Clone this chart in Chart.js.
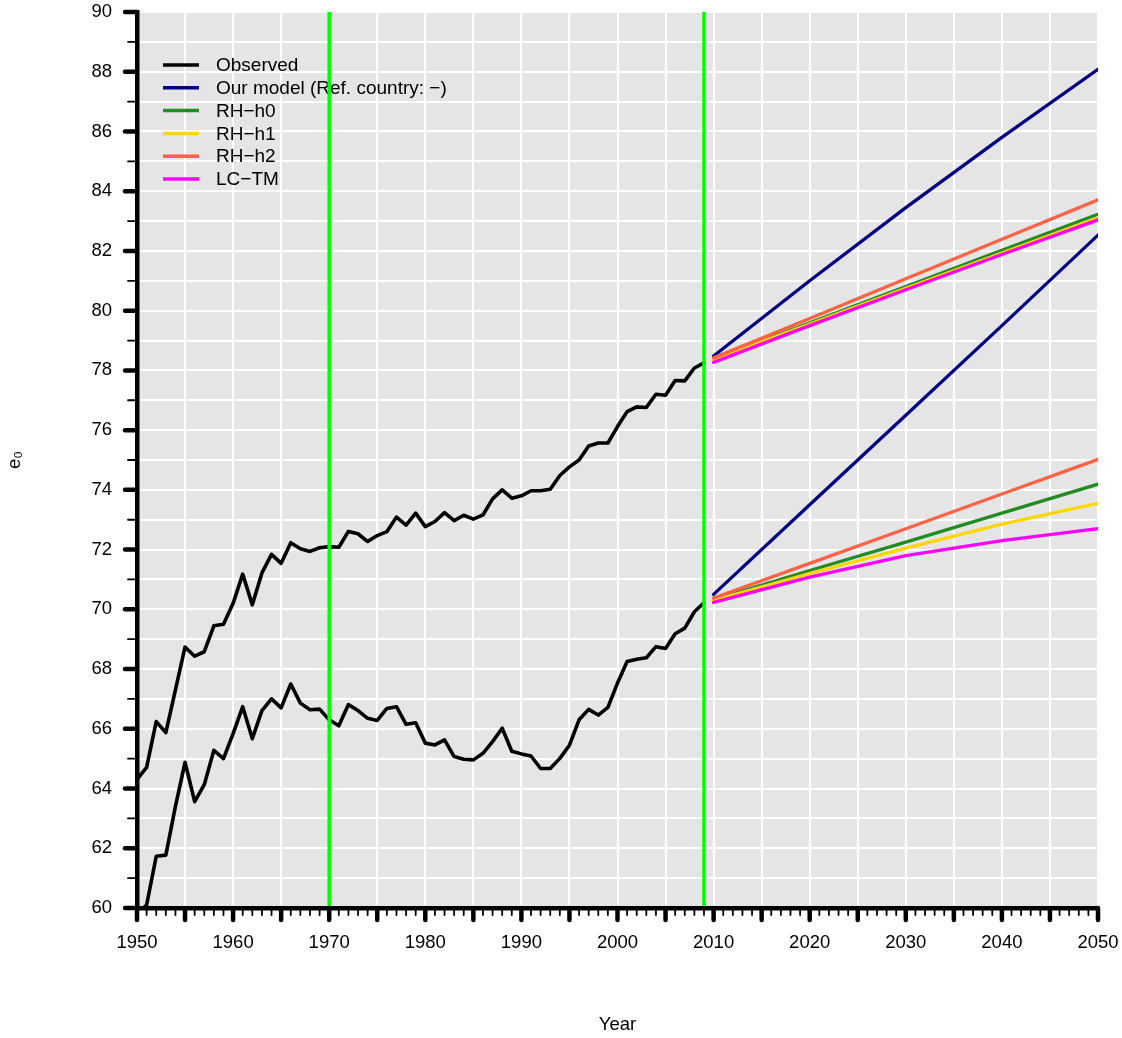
<!DOCTYPE html>
<html>
<head>
<meta charset="utf-8">
<script src="https://cdn.jsdelivr.net/npm/chart.js@4.4.1/dist/chart.umd.min.js"></script>
<style>
  html, body { margin: 0; padding: 0; background: #fff; }
  #wrap { width: 1122px; height: 1038px; }
</style>
</head>
<body>
<div id="wrap"><canvas id="e0Chart"></canvas></div>
<script>
// ---- data ----
const obsYears = [1950, 1951, 1952, 1953, 1954, 1955, 1956, 1957, 1958, 1959,
  1960, 1961, 1962, 1963, 1964, 1965, 1966, 1967, 1968, 1969,
  1970, 1971, 1972, 1973, 1974, 1975, 1976, 1977, 1978, 1979,
  1980, 1981, 1982, 1983, 1984, 1985, 1986, 1987, 1988, 1989,
  1990, 1991, 1992, 1993, 1994, 1995, 1996, 1997, 1998, 1999,
  2000, 2001, 2002, 2003, 2004, 2005, 2006, 2007, 2008, 2009];
const obsHigh = [64.31, 64.71, 66.24, 65.87, 67.3, 68.74, 68.43, 68.58, 69.45, 69.5,
  70.2, 71.18, 70.15, 71.22, 71.84, 71.54, 72.23, 72.03, 71.94, 72.06,
  72.1, 72.08, 72.61, 72.53, 72.27, 72.47, 72.6, 73.09, 72.82, 73.22,
  72.77, 72.94, 73.24, 72.97, 73.15, 73.02, 73.16, 73.7, 74.0, 73.72,
  73.8, 73.97, 73.97, 74.02, 74.48, 74.77, 75.0, 75.47, 75.57, 75.57,
  76.12, 76.62, 76.78, 76.76, 77.2, 77.17, 77.66, 77.65, 78.08, 78.25];
const obsLow = [59.8, 60.1, 61.73, 61.77, 63.4, 64.88, 63.56, 64.13, 65.28, 65.0,
  65.84, 66.74, 65.67, 66.61, 67.0, 66.7, 67.5, 66.86, 66.64, 66.66,
  66.3, 66.1, 66.81, 66.61, 66.35, 66.28, 66.68, 66.74, 66.15, 66.2,
  65.52, 65.46, 65.63, 65.07, 64.98, 64.96, 65.18, 65.57, 66.02, 65.25,
  65.16, 65.09, 64.67, 64.67, 65.01, 65.45, 66.3, 66.65, 66.46, 66.72,
  67.53, 68.25, 68.33, 68.38, 68.75, 68.69, 69.18, 69.37, 69.92, 70.22];

const fcYears = [2010, 2020, 2030, 2040, 2050];
const ourHigh  = [78.48, 81.0, 83.45, 85.8, 88.08];
const ourLow   = [70.5, 73.5, 76.5, 79.5, 82.53];
const h0High   = [78.38, 79.59, 80.81, 82.02, 83.23];
const h0Low    = [70.33, 71.3, 72.25, 73.22, 74.19];
const h1High   = [78.36, 79.55, 80.75, 81.93, 83.11];
const h1Low    = [70.3, 71.2, 72.05, 72.85, 73.55];
const h2High   = [78.42, 79.74, 81.07, 82.39, 83.71];
const h2Low    = [70.38, 71.54, 72.7, 73.86, 75.02];
const lcHigh   = [78.27, 79.5, 80.7, 81.88, 83.04];
const lcLow    = [70.23, 71.08, 71.8, 72.3, 72.7];

const markYears = [1970, 2009];

const legendLabels = ['Observed', 'Our model (Ref. country: \u2212)', 'RH\u2212h0', 'RH\u2212h1', 'RH\u2212h2', 'LC\u2212TM'];
const legendColors = ['#000000', '#000080', '#228B22', '#FFD700', '#FF6347', '#FF00FF'];

const FONT = "'Liberation Sans', Arial, Helvetica, sans-serif";

// ---- helpers ----
function pairs(xs, ys) {
  return xs.map((x, i) => ({ x, y: ys[i] }));
}
function lineSet(data, color, width) {
  return {
    data,
    borderColor: color,
    borderWidth: width,
    pointRadius: 0,
    tension: 0,
    fill: false,
    borderJoinStyle: 'round',
    borderCapStyle: 'round'
  };
}

// ---- plugins ----
const plotBg = {
  id: 'plotBg',
  beforeDraw(chart) {
    const { ctx, chartArea: a } = chart;
    ctx.save();
    ctx.fillStyle = '#E5E5E5';
    ctx.fillRect(a.left, a.top, a.right - a.left, a.bottom - a.top);
    ctx.restore();
  }
};

const legendBox = {
  id: 'legendBox',
  beforeDatasetsDraw(chart) {
    const { ctx, chartArea: a } = chart;
    ctx.save();
    ctx.font = '19px ' + FONT;
    ctx.textBaseline = 'middle';
    ctx.lineCap = 'butt';
    legendLabels.forEach((lab, i) => {
      const yy = a.top + 53 + i * 22.8;
      ctx.strokeStyle = legendColors[i];
      ctx.lineWidth = 3.5;
      ctx.beginPath();
      ctx.moveTo(a.left + 26, yy);
      ctx.lineTo(a.left + 62, yy);
      ctx.stroke();
      ctx.fillStyle = '#000';
      ctx.fillText(lab, a.left + 79, yy + 1);
    });
    ctx.restore();
  }
};

// R-style tick marks: long/thick majors, short/thin minors
const axisTicks = {
  id: 'axisTicks',
  afterDraw(chart) {
    const { ctx, chartArea: a, scales: { x, y } } = chart;
    ctx.save();
    ctx.strokeStyle = '#000';
    ctx.lineCap = 'round';
    x.ticks.forEach(t => {
      const major = t.value % 5 === 0;
      const px = x.getPixelForValue(t.value);
      ctx.lineWidth = major ? 4.5 : 1.8;
      ctx.beginPath();
      ctx.moveTo(px, a.bottom);
      ctx.lineTo(px, a.bottom + (major ? 12 : 7));
      ctx.stroke();
    });
    y.ticks.forEach(t => {
      const major = t.value % 2 === 0;
      const py = y.getPixelForValue(t.value);
      ctx.lineWidth = major ? 4.5 : 1.8;
      ctx.beginPath();
      ctx.moveTo(a.left, py);
      ctx.lineTo(a.left - (major ? 12 : 9), py);
      ctx.stroke();
    });
    ctx.restore();
  }
};

// ---- chart ----
window.addEventListener('DOMContentLoaded', () => {
  const ctx = document.getElementById('e0Chart');

  Chart.defaults.font.family = FONT;
  Chart.defaults.color = '#000';

  const datasets = [
    // drawn last = on top
    ...markYears.map(yr => lineSet([{ x: yr, y: 60 }, { x: yr, y: 90 }], '#00FF00', 3.5)),
    lineSet(pairs(fcYears, lcHigh), '#FF00FF', 3.3),
    lineSet(pairs(fcYears, lcLow), '#FF00FF', 3.3),
    lineSet(pairs(fcYears, h2High), '#FF6347', 3.3),
    lineSet(pairs(fcYears, h2Low), '#FF6347', 3.3),
    lineSet(pairs(fcYears, h1High), '#FFD700', 3.3),
    lineSet(pairs(fcYears, h1Low), '#FFD700', 3.3),
    lineSet(pairs(fcYears, h0High), '#228B22', 3.3),
    lineSet(pairs(fcYears, h0Low), '#228B22', 3.3),
    lineSet(pairs(fcYears, ourHigh), '#000080', 3.3),
    lineSet(pairs(fcYears, ourLow), '#000080', 3.3),
    lineSet(pairs(obsYears, obsHigh), '#000000', 3.6),
    lineSet(pairs(obsYears, obsLow), '#000000', 3.6)
  ];

  new Chart(ctx, {
    type: 'line',
    data: { datasets },
    plugins: [plotBg, legendBox, axisTicks],
    options: {
      responsive: true,
      maintainAspectRatio: false,
      animation: false,
      layout: { padding: { top: 12, right: 24, left: 0, bottom: 0 } },
      plugins: {
        legend: { display: false },
        tooltip: { enabled: false }
      },
      scales: {
        x: {
          type: 'linear',
          min: 1950,
          max: 2050,
          afterFit: s => { s.height = 130; s.paddingLeft = 0; s.paddingRight = 0; },
          grid: {
            color: c => (c.tick && c.tick.value % 5 === 0) ? '#FFFFFF' : 'rgba(0,0,0,0)',
            lineWidth: 2,
            drawTicks: false
          },
          border: { display: true, color: '#000', width: 4.5, z: 1 },
          ticks: {
            stepSize: 1,
            autoSkip: false,
            maxRotation: 0,
            padding: 24,
            font: { size: 18.5 },
            callback: v => (v % 10 === 0 ? String(v) : '')
          },
          title: {
            display: true,
            text: 'Year',
            font: { size: 18.5 },
            padding: { top: 0, bottom: 2 }
          }
        },
        y: {
          type: 'linear',
          min: 60,
          max: 90,
          afterFit: s => { s.width = 137; s.paddingTop = 0; s.paddingBottom = 0; },
          grid: {
            color: '#FFFFFF',
            lineWidth: 2,
            drawTicks: false
          },
          border: { display: true, color: '#000', width: 4.5, z: 1 },
          ticks: {
            stepSize: 1,
            autoSkip: false,
            padding: 25,
            font: { size: 18.5 },
            callback: v => (v % 2 === 0 ? String(v) : '')
          },
          title: {
            display: true,
            text: 'e\u2080',
            font: { size: 18.5 },
            padding: { top: 4, bottom: 0 }
          }
        }
      }
    }
  });
});
</script>
</body>
</html>
